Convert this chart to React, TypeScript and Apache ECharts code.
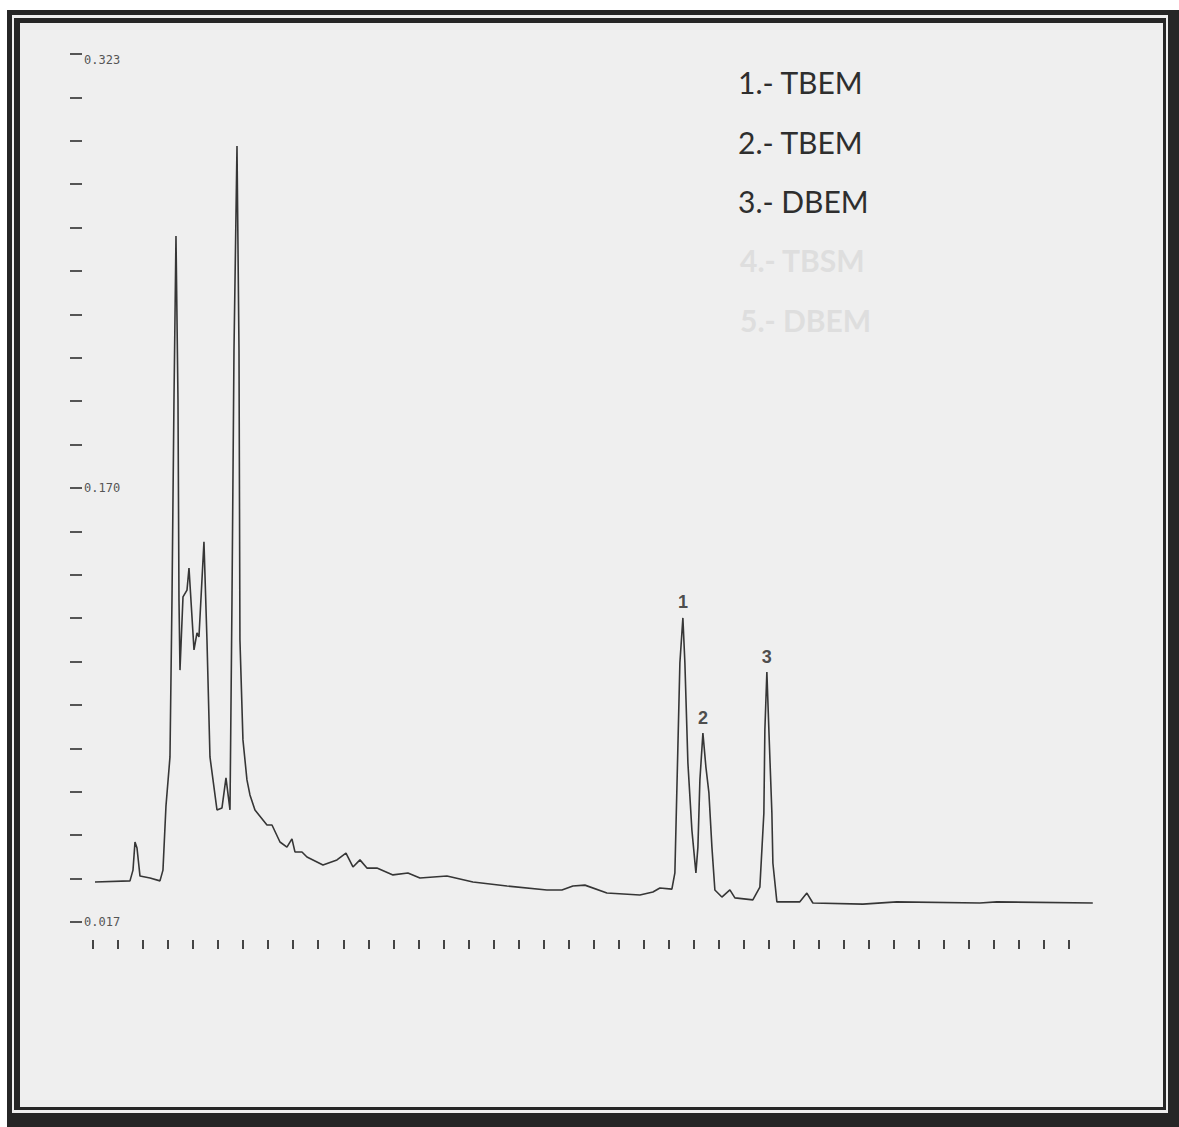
import React, { useEffect, useRef } from "react";
import * as echarts from "echarts";

// Retention time (min) and detector response of the chromatogram trace
const TIME = [
  0.04, 0.739, 0.799, 0.839, 0.879, 0.939, 1.139, 1.338, 1.398, 1.458,
  1.538, 1.578, 1.618, 1.658, 1.698, 1.718, 1.738, 1.798, 1.878, 1.918,
  2.018, 2.078, 2.117, 2.217, 2.277, 2.337, 2.477, 2.577, 2.657, 2.737,
  2.777, 2.817, 2.877, 2.917, 2.936, 2.996, 3.076, 3.136, 3.236, 3.476,
  3.576, 3.736, 3.875, 3.975, 4.035, 4.175, 4.275, 4.595, 4.874, 5.054,
  5.194, 5.334, 5.473, 5.673, 5.993, 6.292, 6.532, 7.072, 7.591, 8.27,
  9.069, 9.369, 9.589, 9.828, 10.268, 10.927, 11.187, 11.327, 11.566, 11.626,
  11.686, 11.726, 11.786, 11.826, 11.886, 11.966, 12.046, 12.086, 12.126, 12.186,
  12.246, 12.306, 12.366, 12.425, 12.565, 12.725, 12.825, 13.184, 13.324, 13.404,
  13.424, 13.464, 13.504, 13.564, 13.584, 13.664, 14.123, 14.263, 14.383, 15.382,
  16.061, 17.719, 18.058, 19.976,
];
const SIGNAL = [
  0.0311, 0.0315, 0.0353, 0.0452, 0.0431, 0.0332, 0.0325, 0.0315, 0.0353, 0.0579,
  0.0752, 0.1305, 0.201, 0.2588, 0.201, 0.1305, 0.1058, 0.1316, 0.134, 0.1418,
  0.1129, 0.1189, 0.1175, 0.151, 0.1164, 0.0752, 0.0565, 0.0572, 0.0678, 0.0565,
  0.1305, 0.2186, 0.2906, 0.2186, 0.1164, 0.0812, 0.0671, 0.0618, 0.0565, 0.0512,
  0.0512, 0.0452, 0.0434, 0.0463, 0.0417, 0.0417, 0.0399, 0.0371, 0.0389, 0.0413,
  0.0364, 0.0389, 0.036, 0.036, 0.0336, 0.0343, 0.0325, 0.0332, 0.0311, 0.0297,
  0.0283, 0.0283, 0.0297, 0.03, 0.0272, 0.0265, 0.0276, 0.029, 0.0286, 0.0343,
  0.0787, 0.1083, 0.1242, 0.1083, 0.0731, 0.0494, 0.0343, 0.0434, 0.0671, 0.0836,
  0.0716, 0.0625, 0.0434, 0.0283, 0.0258, 0.0283, 0.0255, 0.0248, 0.0293, 0.0554,
  0.0847, 0.1051, 0.0847, 0.0554, 0.0378, 0.0241, 0.0241, 0.0272, 0.0237, 0.0233,
  0.0241, 0.0237, 0.0241, 0.0237,
];

// Numbered peaks: index into the trace and label
const PEAK_INDEX = [72, 79, 91];
const PEAK_LABELS = ["1", "2", "3"];

// Legend lines
const LEGEND = ["1.- TBEM", "2.- TBEM", "3.- DBEM"];
const GHOST_LEGEND = ["4.- TBSM", "5.- DBEM"];

// Axis ticks and labels
const Y_MIN = 0.017;
const Y_MAX = 0.323;
const Y_LABELS = [0.017, 0.17, 0.323];
const Y_TICKS = Array.from({ length: 21 }, (_, i) => +(0.017 + i * 0.0153).toFixed(4));
const X_TICKS = Array.from({ length: 40 }, (_, i) => i * 0.5);

export default function App() {
  const ref = useRef<HTMLDivElement>(null);

  useEffect(() => {
    if (!ref.current) return;
    const chart = echarts.init(ref.current, undefined, { renderer: "svg" });

    const trace = TIME.map((t, i) => [t, SIGNAL[i]]);
    const peaks = PEAK_INDEX.map((idx, k) => ({
      value: [TIME[idx], SIGNAL[idx]],
      name: PEAK_LABELS[k],
    }));

    const dark = "#262626";
    const frame = [
      { type: "rect", shape: { x: 0, y: 0, width: 1179, height: 10 }, style: { fill: "#ffffff" } },
      { type: "rect", shape: { x: 0, y: 0, width: 7, height: 1127 }, style: { fill: "#ffffff" } },
      { type: "rect", shape: { x: 7, y: 10, width: 1172, height: 5 }, style: { fill: dark } },
      { type: "rect", shape: { x: 7, y: 10, width: 5, height: 1117 }, style: { fill: dark } },
      { type: "rect", shape: { x: 1168, y: 10, width: 11, height: 1117 }, style: { fill: dark } },
      { type: "rect", shape: { x: 7, y: 1113, width: 1172, height: 14 }, style: { fill: dark } },
      { type: "rect", shape: { x: 14, y: 18, width: 1152, height: 5 }, style: { fill: dark } },
      { type: "rect", shape: { x: 14, y: 18, width: 6, height: 1092 }, style: { fill: dark } },
      { type: "rect", shape: { x: 1163, y: 18, width: 3, height: 1092 }, style: { fill: dark } },
      { type: "rect", shape: { x: 14, y: 1107, width: 1152, height: 3 }, style: { fill: dark } },
    ];

    const legendTexts = LEGEND.map((t, i) => ({
      type: "text",
      x: 738,
      y: 82 + i * 59.5,
      style: {
        text: t,
        fill: "#2e2e2e",
        font: "30px Lato",
        textVerticalAlign: "middle",
      },
    }));
    const ghostTexts = GHOST_LEGEND.map((t, i) => ({
      type: "text",
      x: 740,
      y: 260 + i * 60,
      style: {
        text: t,
        fill: "#dedede",
        font: "bold 30px Lato",
        textVerticalAlign: "middle",
      },
    }));

    chart.setOption({
      animation: false,
      backgroundColor: "#efefef",
      grid: [
        { left: 93, right: 85, top: 54, bottom: 205 },
        { left: 82, right: 85, top: 54, bottom: 205 },
      ],
      xAxis: [
        {
          type: "value",
          gridIndex: 0,
          min: 0,
          max: 20,
          offset: 18,
          axisLine: { show: false },
          axisTick: {
            show: true,
            length: 9,
            customValues: X_TICKS,
            lineStyle: { color: "#444", width: 2 },
          },
          axisLabel: { show: false },
          splitLine: { show: false },
        },
        {
          type: "value",
          gridIndex: 1,
          min: 0,
          max: 20,
          show: false,
        },
      ],
      yAxis: [
        {
          type: "value",
          gridIndex: 0,
          min: Y_MIN,
          max: Y_MAX,
          show: false,
        },
        {
          type: "value",
          gridIndex: 1,
          min: Y_MIN,
          max: Y_MAX,
          axisLine: { show: false },
          axisTick: {
            show: true,
            length: 12,
            customValues: Y_TICKS,
            lineStyle: { color: "#555", width: 2 },
          },
          axisLabel: {
            show: true,
            inside: true,
            margin: 2,
            customValues: Y_LABELS,
            formatter: (v: number) => v.toFixed(3),
            fontFamily: "DejaVu Sans Mono",
            fontSize: 12,
            color: "#555",
            verticalAlignMaxLabel: "top",
          },
          splitLine: { show: false },
        },
      ],
      graphic: [...frame, ...legendTexts, ...ghostTexts],
      series: [
        {
          type: "line",
          xAxisIndex: 0,
          yAxisIndex: 0,
          data: trace,
          symbol: "none",
          smooth: false,
          lineStyle: { color: "#363636", width: 1.6 },
          z: 2,
        },
        {
          type: "scatter",
          xAxisIndex: 0,
          yAxisIndex: 0,
          data: peaks,
          symbolSize: 1,
          itemStyle: { color: "rgba(0,0,0,0)" },
          label: {
            show: true,
            position: "top",
            distance: 6,
            formatter: (p: any) => p.name,
            fontFamily: "Liberation Sans",
            fontWeight: "bold",
            fontSize: 18,
            color: "#222",
          },
          z: 3,
        },
      ],
    });

    return () => chart.dispose();
  }, []);

  return (
    <div
      ref={ref}
      style={{ position: "absolute", left: 0, top: 0, width: 1179, height: 1127 }}
    />
  );
}
